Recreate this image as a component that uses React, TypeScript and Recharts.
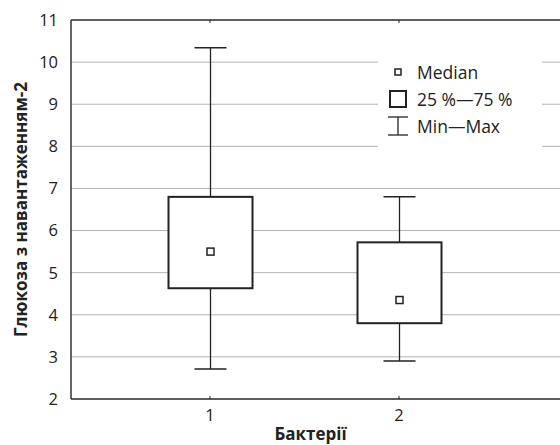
import React from 'react';
import { ComposedChart, Bar, XAxis, YAxis, CartesianGrid, Legend } from 'recharts';

// box plot values
const categories = ['1', '2'];
const mins = [2.71, 2.9];
const q1s = [4.63, 3.8];
const medians = [5.5, 4.35];
const q3s = [6.8, 5.72];
const maxs = [10.34, 6.8];
const yTicks = [2, 3, 4, 5, 6, 7, 8, 9, 10, 11];

const data = categories.map((cat, i) => ({
  cat,
  min: mins[i],
  q1: q1s[i],
  median: medians[i],
  q3: q3s[i],
  max: maxs[i],
  range: [mins[i], maxs[i]],
}));

const INK = '#222';
const FONT = "'Open Sans', sans-serif";

const BoxShape = (props: any) => {
  const { x, y, width, height, payload } = props;
  const top = Math.min(y, y + height);
  const h = Math.abs(height);
  const ppu = h / (payload.max - payload.min);
  const py = (v: number) => top + (payload.max - v) * ppu;
  const cx = x + width / 2;
  const cap = 16;
  return (
    <g>
      <line x1={cx} x2={cx} y1={py(payload.max)} y2={py(payload.q3)} stroke={INK} strokeWidth={1.3} />
      <line x1={cx} x2={cx} y1={py(payload.q1)} y2={py(payload.min)} stroke={INK} strokeWidth={1.3} />
      <line x1={cx - cap} x2={cx + cap} y1={py(payload.max)} y2={py(payload.max)} stroke={INK} strokeWidth={1.5} />
      <line x1={cx - cap} x2={cx + cap} y1={py(payload.min)} y2={py(payload.min)} stroke={INK} strokeWidth={1.5} />
      <rect
        x={x}
        y={py(payload.q3)}
        width={width}
        height={py(payload.q1) - py(payload.q3)}
        fill="#fff"
        stroke={INK}
        strokeWidth={2}
      />
      <rect x={cx - 3.5} y={py(payload.median) - 3.5} width={7} height={7} fill="#fff" stroke={INK} strokeWidth={1.5} />
    </g>
  );
};

const BottomTick = (props: any) => {
  const { x, y, payload } = props;
  return (
    <g>
      <line x1={x} x2={x} y1={y - 10} y2={y - 13} stroke={INK} strokeWidth={1} />
      <text x={x} y={y + 12} textAnchor="middle" fontSize={16.5} fill={INK} fontFamily={FONT}>
        {payload.value}
      </text>
    </g>
  );
};

const TopTick = (props: any) => {
  const { x, y } = props;
  return <line x1={x} x2={x} y1={y} y2={y + 3} stroke={INK} strokeWidth={1} />;
};

const legendRows = [
  {
    label: 'Median',
    icon: <rect x={7} y={7} width={6} height={6} fill="#fff" stroke={INK} strokeWidth={1.5} />,
  },
  {
    label: '25 %—75 %',
    icon: <rect x={2} y={2} width={16} height={16} fill="#fff" stroke={INK} strokeWidth={2} />,
  },
  {
    label: 'Min—Max',
    icon: (
      <g stroke={INK} strokeWidth={1.3}>
        <line x1={0} x2={20} y1={1} y2={1} />
        <line x1={10} x2={10} y1={1} y2={19} />
        <line x1={0} x2={20} y1={19} y2={19} />
      </g>
    ),
  },
];

const LegendBox = () => (
  <div
    style={{
      background: '#fff',
      width: 164,
      height: 110,
      boxSizing: 'border-box',
      paddingTop: 8,
      fontFamily: FONT,
      fontSize: 17.5,
      color: INK,
    }}
  >
    {legendRows.map((r) => (
      <div key={r.label} style={{ display: 'flex', alignItems: 'center', height: 27, whiteSpace: 'nowrap' }}>
        <svg width={20} height={20} style={{ marginLeft: 10, marginRight: 9, flex: 'none' }}>
          {r.icon}
        </svg>
        <span>{r.label}</span>
      </div>
    ))}
  </div>
);

export default function App() {
  return (
    <div style={{ position: 'absolute', left: 0, top: 0, width: 560, height: 445, overflow: 'hidden', background: '#fff' }}>
      <ComposedChart
        width={560}
        height={445}
        data={data}
        margin={{ top: 0, right: 0, bottom: 0, left: 0 }}
        style={{ fontFamily: FONT }}
      >
        <CartesianGrid vertical={false} stroke="#b3b3b3" xAxisId="bottom" />
        <XAxis
          xAxisId="top"
          orientation="top"
          dataKey="cat"
          height={20}
          padding={{ left: 44.5, right: 66.5 }}
          axisLine={{ stroke: '#333', strokeWidth: 1.5 }}
          tickLine={false}
          tickSize={0}
          tickMargin={0}
          tick={TopTick}
        />
        <XAxis
          xAxisId="bottom"
          dataKey="cat"
          height={46}
          padding={{ left: 44.5, right: 66.5 }}
          axisLine={{ stroke: '#333', strokeWidth: 1.5 }}
          tickLine={false}
          tickSize={0}
          tickMargin={10}
          tick={BottomTick}
          label={{
            content: ({ viewBox }: any) => (
              <text
                x={viewBox.x + viewBox.width / 2 - 5}
                y={viewBox.y + viewBox.height - 5}
                textAnchor="middle"
                fontSize={17}
                fontWeight={700}
                fill={INK}
                fontFamily={FONT}
              >
                Бактерії
              </text>
            ),
          }}
        />
        <YAxis
          type="number"
          domain={[2, 11]}
          ticks={yTicks}
          interval={0}
          width={71}
          axisLine={{ stroke: '#333', strokeWidth: 1.5 }}
          tickLine={false}
          tickSize={0}
          tickMargin={13}
          tick={{ fontSize: 16.5, fill: INK }}
          label={{
            content: ({ viewBox }: any) => {
              const lx = viewBox.x + 20;
              const ly = viewBox.y + viewBox.height / 2;
              return (
                <text
                  x={lx}
                  y={ly}
                  transform={`rotate(-90, ${lx}, ${ly})`}
                  textAnchor="middle"
                  dominantBaseline="central"
                  fontSize={17}
                  fontWeight={700}
                  fill={INK}
                  fontFamily={FONT}
                >
                  Глюкоза з навантаженням-2
                </text>
              );
            },
          }}
        />
        <Legend
          layout="vertical"
          align="center"
          verticalAlign="middle"
          content={<LegendBox />}
          wrapperStyle={{ left: 378, top: 50, width: 164, height: 110 }}
        />
        <Bar
          xAxisId="bottom"
          dataKey="range"
          barSize={84}
          shape={BoxShape}
          isAnimationActive={false}
        />
      </ComposedChart>
    </div>
  );
}
